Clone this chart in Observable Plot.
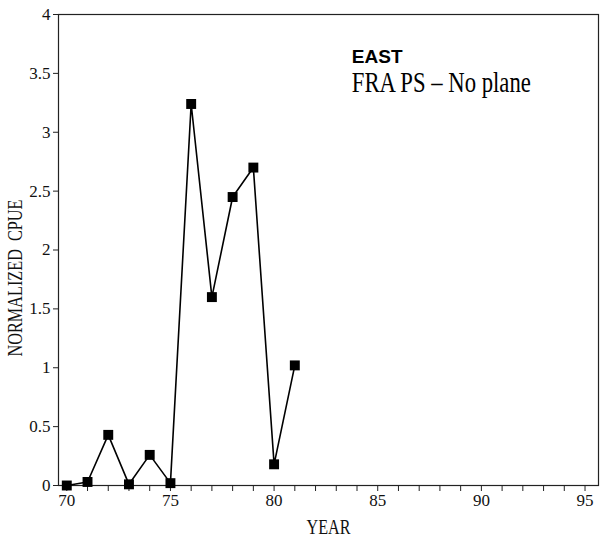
<!DOCTYPE html>
<html>
<head>
<meta charset="utf-8">
<script src="https://cdn.jsdelivr.net/npm/d3@7"></script>
<script src="https://cdn.jsdelivr.net/npm/@observablehq/plot@0.6"></script>
<style>
  html, body { margin: 0; padding: 0; background: #fff; }
  #chart svg text { font-family: "Liberation Serif", serif !important; }
  #chart svg text.sans { font-family: "Liberation Sans", sans-serif !important; }
</style>
</head>
<body>
<div id="chart"></div>
<script>
const years = [70, 71, 72, 73, 74, 75, 76, 77, 78, 79, 80, 81];
const cpue  = [0.00, 0.03, 0.43, 0.01, 0.26, 0.02, 3.24, 1.60, 2.45, 2.70, 0.18, 1.02];
const yTicks = [0, 0.5, 1, 1.5, 2, 2.5, 3, 3.5, 4];
const xTicks = d3.range(70, 96);
const titleLines = [
  {text: "EAST", x: 83.75, y: 3.592, bold: true},
  {text: "FRA PS \u2013 No plane", x: 83.75, y: 3.344, bold: false}
];

const data = years.map((y, i) => ({year: y, value: cpue[i]}));
const serif = "Liberation Serif";

const chart = Plot.plot({
  width: 600,
  height: 544,
  marginLeft: 58,
  marginRight: 2,
  marginTop: 14,
  marginBottom: 59,
  style: {fontFamily: serif, fontSize: "16px", background: "#fff", color: "#111"},
  x: {domain: [69.6, 95.65]},
  y: {domain: [0, 4]},
  marks: [
    Plot.frame({stroke: "#222", strokeWidth: 1.2}),
    Plot.axisX({
      ticks: xTicks,
      tickFormat: d => (d % 5 === 0 ? String(d) : ""),
      tickSize: 6,
      tickPadding: 2,
      fontSize: 17,
      label: "YEAR",
      labelAnchor: "center",
      labelArrow: "none",
      labelOffset: 48,
      stroke: "#222"
    }),
    Plot.axisY({
      ticks: yTicks,
      tickFormat: d => String(d),
      tickSize: 5,
      tickPadding: 3,
      fontSize: 17,
      label: "NORMALIZED  CPUE",
      labelAnchor: "center",
      labelArrow: "none",
      labelOffset: 51,
      stroke: "#222"
    }),
    Plot.line(data, {x: "year", y: "value", stroke: "#000", strokeWidth: 1.6}),
    Plot.dot(data, {x: "year", y: "value", symbol: "square", r: 5.6, fill: "#000", stroke: "none"}),
    Plot.text(titleLines.filter(d => d.bold), {
      x: "x", y: "y", text: "text", textAnchor: "start", lineAnchor: "bottom",
      fontWeight: "bold", fontSize: 19, fill: "#000"
    }),
    Plot.text(titleLines.filter(d => !d.bold), {
      x: "x", y: "y", text: "text", textAnchor: "start", lineAnchor: "bottom",
      fontSize: 30, fill: "#000"
    })
  ]
});

const svg = d3.select(chart);
svg.selectAll("g[aria-label='x-axis tick label'] text, g[aria-label='y-axis tick label'] text")
  .style("font-size", "17px");
svg.selectAll("g[aria-label='x-axis label'] text")
  .style("font-size", "22px")
  .attr("textLength", 44).attr("lengthAdjust", "spacingAndGlyphs");
const yl = svg.select("g[aria-label='y-axis label']");
yl.attr("transform", ((yl.attr("transform") || "") + " translate(0,28)").trim());
yl.selectAll("text")
  .style("font-size", "21px")
  .attr("textLength", 157).attr("lengthAdjust", "spacingAndGlyphs");
svg.selectAll("g[aria-label='text'] text")
  .filter(function() { return this.textContent === "EAST"; })
  .classed("sans", true);
svg.selectAll("g[aria-label='text'] text")
  .filter(function() { return this.textContent.startsWith("FRA"); })
  .attr("textLength", 179).attr("lengthAdjust", "spacingAndGlyphs");

document.getElementById("chart").appendChild(chart);
</script>
</body>
</html>
